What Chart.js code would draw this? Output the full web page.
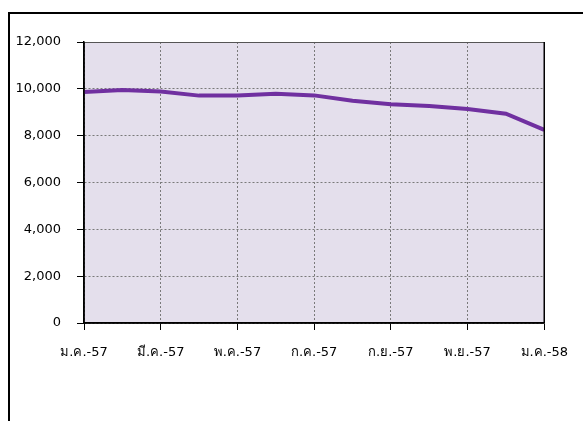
<!DOCTYPE html>
<html>
<head>
<meta charset="utf-8">
<script src="https://cdn.jsdelivr.net/npm/chart.js@4"></script>
<style>
  html, body { margin: 0; padding: 0; background: #fff; }
  #wrap { position: relative; width: 583px; height: 421px; overflow: hidden; }
  #frame { position: absolute; left: 8px; top: 12px; width: 600px; height: 440px; border: 2px solid #000; box-sizing: border-box; }
  canvas { position: absolute; left: 0; top: 0; }
</style>
</head>
<body>
<div id="wrap">
  <div id="frame"></div>
  <canvas id="grafico" width="583" height="421"></canvas>
</div>
<script>
// Dados
const meses = ['ม.ค.-57','ก.พ.-57','มี.ค.-57','เม.ย.-57','พ.ค.-57','มิ.ย.-57','ก.ค.-57','ส.ค.-57','ก.ย.-57','ต.ค.-57','พ.ย.-57','ธ.ค.-57','ม.ค.-58'];
const valores = [9870, 9950, 9890, 9710, 9720, 9790, 9720, 9490, 9340, 9270, 9140, 8940, 8250];
const yMin = 0, yMax = 12000, yPasso = 2000;

const fonte = "Tahoma, 'DejaVu Sans', 'Noto Sans', sans-serif";

// fundo e moldura da área do gráfico
const fundoPlugin = {
    id: 'fundo',
    beforeDraw(chart){
        const {ctx, chartArea:a} = chart;
        ctx.save();
        ctx.fillStyle = '#e4dfec';
        ctx.fillRect(a.left, a.top, a.right - a.left, a.bottom - a.top);
        ctx.restore();
    },
    afterDraw(chart){
        const {ctx, chartArea:a} = chart;
        ctx.save();
        ctx.setLineDash([]);
        ctx.strokeStyle = '#555';
        ctx.lineWidth = 1;
        ctx.beginPath();
        ctx.moveTo(a.left, a.top + 0.5); ctx.lineTo(a.right, a.top + 0.5);
        ctx.stroke();
        ctx.strokeStyle = '#000';
        ctx.lineWidth = 1.5;
        ctx.beginPath();
        ctx.moveTo(a.right, a.top); ctx.lineTo(a.right, a.bottom);
        ctx.moveTo(a.left, a.top); ctx.lineTo(a.left, a.bottom);
        ctx.moveTo(a.left, a.bottom); ctx.lineTo(a.right, a.bottom);
        ctx.stroke();
        ctx.restore();
    }
};

new Chart(document.getElementById('grafico'), {
    type: 'line',
    data: {
        labels: meses,
        datasets: [{
            data: valores,
            borderColor: '#7030a0',
            borderWidth: 4,
            pointRadius: 0,
            tension: 0,
            fill: false
        }]
    },
    options: {
        responsive: false,
        animation: false,
        layout: { padding: { left: 0, top: 42, right: 38, bottom: 0 } },
        plugins: { legend: { display: false }, tooltip: { enabled: false } },
        scales: {
            x: {
                grid: {
                    color: c => (c.index % 2 === 0 ? '#7a7a7a' : 'rgba(0,0,0,0)'),
                    tickColor: c => (c.index % 2 === 0 ? '#000' : 'rgba(0,0,0,0)'),
                    tickLength: 7,
                    lineWidth: 1
                },
                border: { display: true, color: '#000', width: 1.5, dash: [2, 2] },
                ticks: {
                    autoSkip: false,
                    maxRotation: 0,
                    padding: 15,
                    color: '#000',
                    font: { family: fonte, size: 13 },
                    callback: function(v, i){ return i % 2 === 0 ? this.getLabelForValue(v) : ''; }
                },
                afterFit: s => { s.height = 98; }
            },
            y: {
                min: yMin, max: yMax,
                grid: {
                    color: '#7a7a7a',
                    tickColor: '#000',
                    tickLength: 7
                },
                border: { display: true, color: '#000', width: 1.5, dash: [2, 2] },
                ticks: {
                    stepSize: yPasso,
                    padding: 16,
                    color: '#000',
                    font: { family: fonte, size: 13 },
                    callback: v => v.toLocaleString('en-US')
                },
                afterFit: s => { s.width = 84; }
            }
        }
    },
    plugins: [fundoPlugin]
});
</script>
</body>
</html>
